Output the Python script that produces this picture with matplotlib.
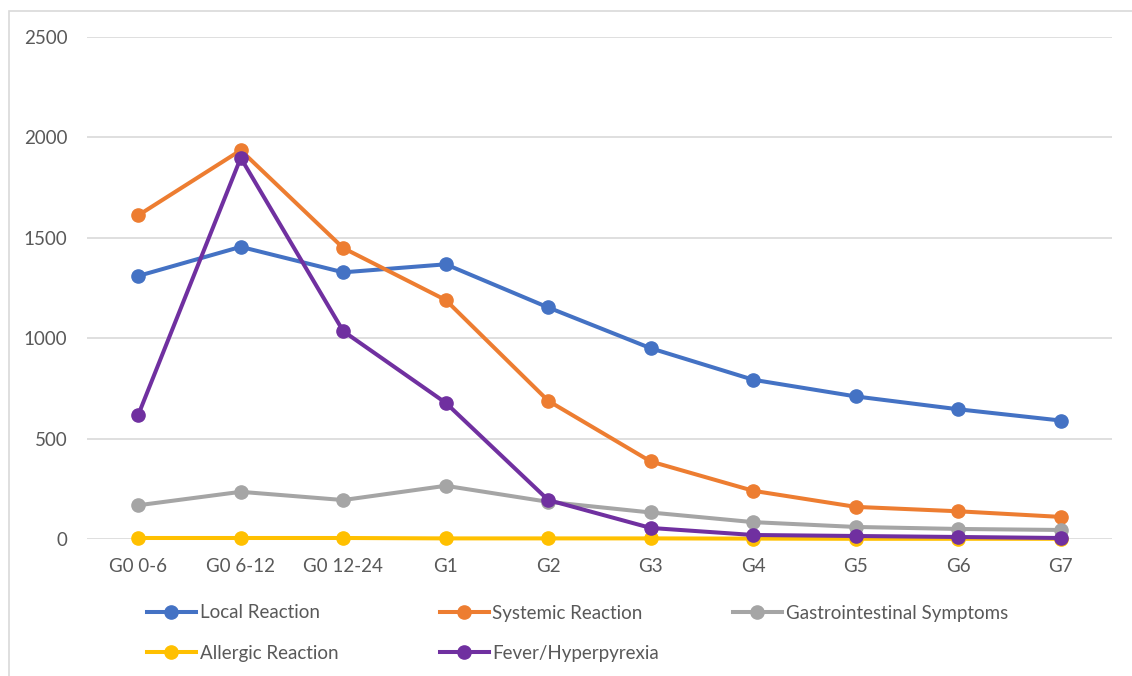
import matplotlib.pyplot as plt
from matplotlib.lines import Line2D
from matplotlib.patches import Rectangle

plt.rcParams['font.family'] = ['Lato', 'DejaVu Sans']

categories = ['G0 0-6', 'G0 6-12', 'G0 12-24', 'G1', 'G2', 'G3', 'G4', 'G5', 'G6', 'G7']
local = [1310, 1455, 1328, 1368, 1153, 950, 793, 710, 646, 590]
systemic = [1612, 1936, 1449, 1190, 688, 386, 240, 160, 138, 110]
gastro = [168, 235, 194, 265, 185, 132, 84, 60, 50, 45]
allergic = [5, 5, 5, 3, 3, 3, 2, 1, 1, 1]
fever = [618, 1898, 1035, 678, 194, 55, 20, 15, 10, 5]

series = [
    ('Local Reaction', local, '#4472C4'),
    ('Systemic Reaction', systemic, '#ED7D31'),
    ('Gastrointestinal Symptoms', gastro, '#A5A5A5'),
    ('Allergic Reaction', allergic, '#FFC000'),
    ('Fever/Hyperpyrexia', fever, '#7030A0'),
]

W, H = 1132, 676
fig = plt.figure(figsize=(W / 100, H / 100), dpi=100)
ax = fig.add_axes([87 / W, 1 - 539 / H, (1112 - 87) / W, (539 - 37) / H])

x = list(range(len(categories)))
for name, vals, col in series:
    ax.plot(x, vals, color=col, lw=2.9, marker='o', ms=9.5, label=name, clip_on=False)

ax.set_xlim(-0.5, len(categories) - 0.5)
ax.set_ylim(0, 2500)
ax.set_yticks(range(0, 2501, 500))
ax.set_xticks(x)
ax.set_xticklabels(categories)
ax.grid(axis='y', color='#D9D9D9', lw=1.2)
ax.set_axisbelow(True)
for s in ax.spines.values():
    s.set_visible(False)
ax.tick_params(length=0, labelsize=13.5, colors='#595959')
ax.tick_params(axis='x', pad=14)
ax.tick_params(axis='y', pad=14)

# chart frame
fig.patches.append(Rectangle((9 / W, -0.1), 1.2, 1 - 11 / H + 0.1, transform=fig.transFigure,
                             fill=False, ec='#D9D9D9', lw=1.2))

# legend entries laid out like the Excel legend
legend_pos = [(147, 613), (440, 613), (733, 613), (147, 653), (440, 653)]
for (name, vals, col), (px, py) in zip(series, legend_pos):
    h = Line2D([], [], color=col, lw=2.9, marker='o', ms=9.5)
    fig.legend(handles=[h], labels=[name], loc='center left',
               bbox_to_anchor=(px / W, 1 - py / H), frameon=False,
               handlelength=2.6, handletextpad=0.2, borderpad=0, borderaxespad=0,
               fontsize=13.5, labelcolor='#595959')

fig.savefig('out.png', dpi=100)
